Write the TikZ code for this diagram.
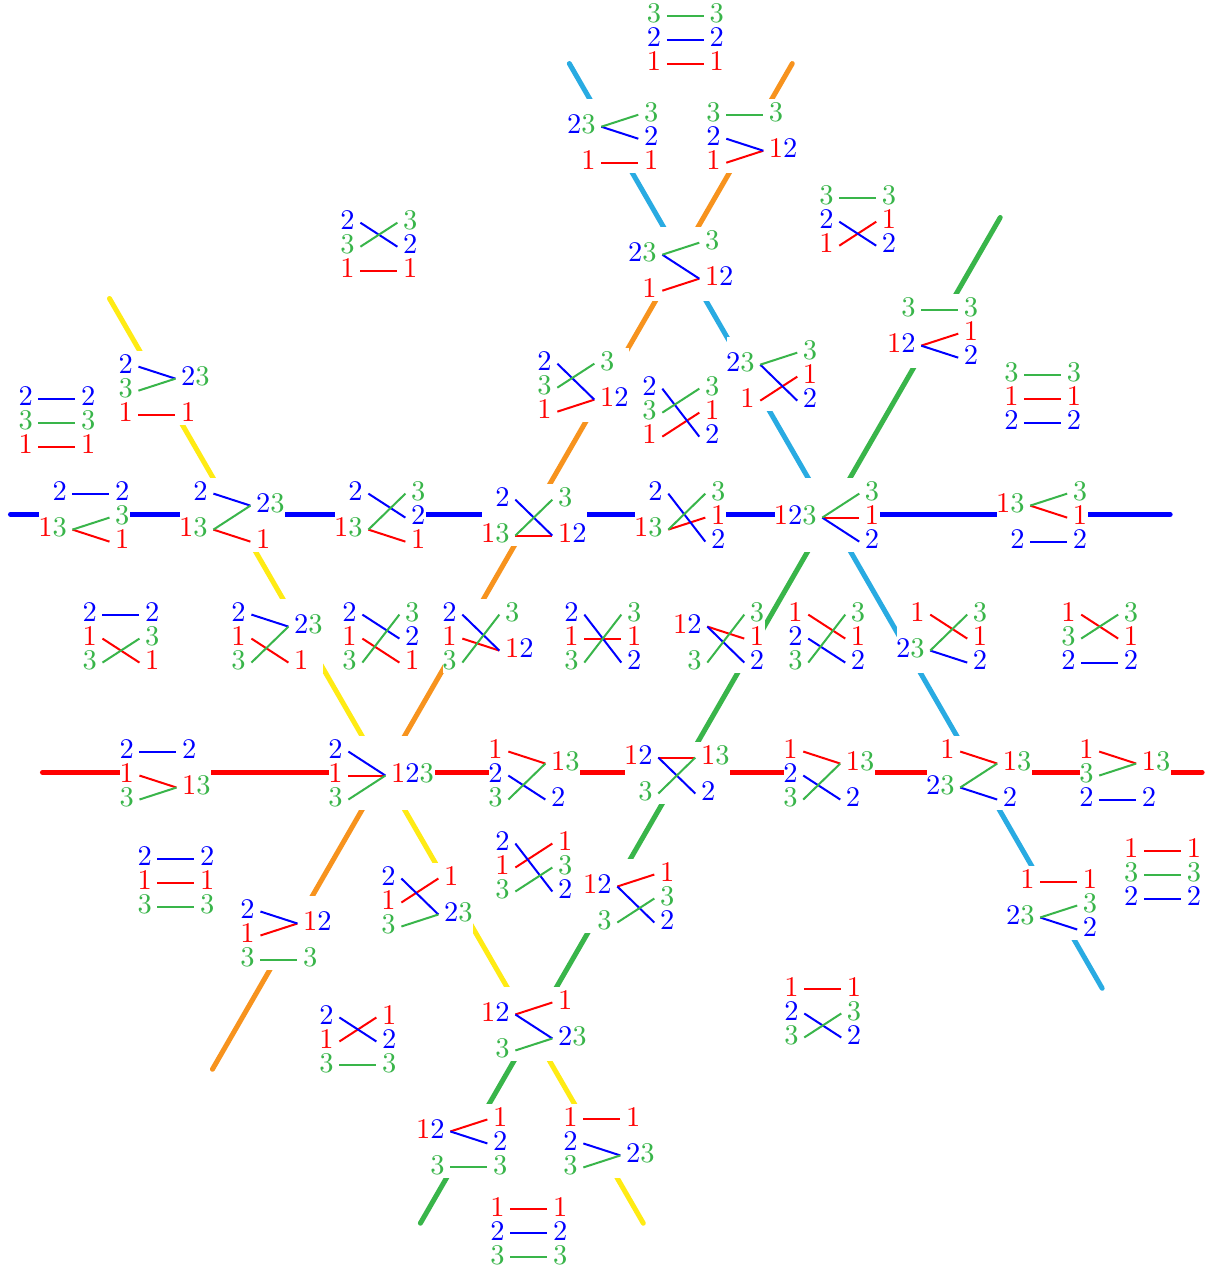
\documentclass[tikz,border=0pt]{standalone}
\usetikzlibrary{fit}
\definecolor{colr}{HTML}{FF0000}
\definecolor{colb}{HTML}{0000FF}
\definecolor{colg}{HTML}{39B54A}
\definecolor{coly}{HTML}{FFEB14}
\definecolor{colo}{HTML}{F7931E}
\definecolor{colc}{HTML}{29ABE2}
\pgfdeclarelayer{conn}\pgfdeclarelayer{mask}\pgfsetlayers{conn,mask,main}
\font\dgfont=cmr10 at 28.5pt
\def\recdigit#1#2#3{\global\expandafter\let\csname row#3\side\endcsname\yy\textcolor{#2}{#1}}
\def\1{\recdigit{1}{colr}{a}}
\def\2{\recdigit{2}{colb}{b}}
\def\3{\recdigit{3}{colg}{c}}
\tikzset{
  lab/.style={inner sep=0pt,font=\dgfont},
  wire/.style={line width=2pt},
  strand/.style={line width=5pt,line cap=round},
  maskbox/.style={fill=white,inner xsep=0pt,inner ysep=4pt,xshift=.7pt}
}
\newcommand\dg[5]{%
  \begin{scope}[local bounding box=#1-bb]
    \def\side{L}
    \foreach \yy/\lbl in {#4}{\node[lab,anchor=base east] at (#2-24,#3+\yy*24+9.1) {\lbl};}
    \def\side{R}
    \foreach \yy/\lbl in {#5}{\node[lab,anchor=base west] at (#2+24,#3+\yy*24+9.1) {\lbl};}
    \draw[wire,colr] (#2-18.5,#3+\rowaL*24+2.5) -- (#2+18.5,#3+\rowaR*24+2.5);
    \draw[wire,colb] (#2-18.5,#3+\rowbL*24+2.5) -- (#2+18.5,#3+\rowbR*24+2.5);
    \draw[wire,colg] (#2-18.5,#3+\rowcL*24+2.5) -- (#2+18.5,#3+\rowcR*24+2.5);
  \end{scope}
  \begin{pgfonlayer}{mask}
    \node[maskbox,fit=(#1-bb)] (#1) {};
  \end{pgfonlayer}
}
\begin{document}
\begin{tikzpicture}[x=1pt,y=-1pt]
\coordinate (b0) at (10.5,514.3);   \coordinate (b1) at (1170.5,514.3);
\coordinate (r0) at (42.5,772.3);   \coordinate (r1) at (1202.5,772.3);
\coordinate (c0) at (569.5,63.3);   \coordinate (c1) at (1102.5,988.3);
\coordinate (o0) at (792.5,63.3);   \coordinate (o1) at (212.5,1069.3);
\coordinate (g0) at (1000.5,217.3); \coordinate (g1) at (420.5,1223.3);
\coordinate (y0) at (109.5,298.3);  \coordinate (y1) at (643.5,1223.3);
\begin{pgfonlayer}{conn}
\draw[strand,colb] (b0) -- (b1);
\draw[strand,colr] (r0) -- (r1);
\draw[strand,colc] (c0) -- (c1);
\draw[strand,colo] (o0) -- (o1);
\draw[strand,colg] (g0) -- (g1);
\draw[strand,coly] (y0) -- (y1);
\end{pgfonlayer}
\dg{n01}{685.5}{37}{-1/\3,0/\2,1/\1}{-1/\3,0/\2,1/\1}
\dg{n02}{620}{136}{-.5/\2\3,1/\1}{-1/\3,0/\2,1/\1}
\dg{n03}{745}{136}{-1/\3,0/\2,1/\1}{-1/\3,.5/\1\2}
\dg{n04}{681}{264}{-.5/\2\3,1/\1}{-1/\3,.5/\1\2}
\dg{n05}{858}{219}{-1/\3,0/\2,1/\1}{-1/\3,0/\1,1/\2}
\dg{n06}{379}{244}{-1/\2,0/\3,1/\1}{-1/\3,0/\2,1/\1}
\dg{n07}{940}{331}{-1/\3,.5/\1\2}{-1/\3,0/\1,1/\2}
\dg{n08}{1043}{396}{-1/\3,0/\1,1/\2}{-1/\3,0/\1,1/\2}
\dg{n09}{779}{374}{-.5/\2\3,1/\1}{-1/\3,0/\1,1/\2}
\dg{n10}{681}{410}{-1/\2,0/\3,1/\1}{-1/\3,0/\1,1/\2}
\dg{n11}{576}{385}{-1/\2,0/\3,1/\1}{-1/\3,.5/\1\2}
\dg{n12}{157}{388}{-1/\2,0/\3,1/\1}{-.5/\2\3,1/\1}
\dg{n13}{57}{420}{-1/\2,0/\3,1/\1}{-1/\2,0/\3,1/\1}
\dg{n14}{91}{515}{-1/\2,.5/\1\3}{-1/\2,0/\3,1/\1}
\dg{n15}{232}{515}{-1/\2,.5/\1\3}{-.5/\2\3,1/\1}
\dg{n16}{387}{515}{-1/\2,.5/\1\3}{-1/\3,0/\2,1/\1}
\dg{n17}{534}{521}{-1/\2,.5/\1\3}{-1/\3,.5/\1\2}
\dg{n18}{687}{515}{-1/\2,.5/\1\3}{-1/\3,0/\1,1/\2}
\dg{n19}{841}{515}{0/\1\2\3}{-1/\3,0/\1,1/\2}
\dg{n20}{1049}{515}{-.5/\1\3,1/\2}{-1/\3,0/\1,1/\2}
\dg{n21}{121}{636}{-1/\2,0/\1,1/\3}{-1/\2,0/\3,1/\1}
\dg{n22}{270}{636}{-1/\2,0/\1,1/\3}{-.5/\2\3,1/\1}
\dg{n23}{381}{636}{-1/\2,0/\1,1/\3}{-1/\3,0/\2,1/\1}
\dg{n24}{481}{636}{-1/\2,0/\1,1/\3}{-1/\3,.5/\1\2}
\dg{n25}{603}{636}{-1/\2,0/\1,1/\3}{-1/\3,0/\1,1/\2}
\dg{n26}{726}{636}{-.5/\1\2,1/\3}{-1/\3,0/\1,1/\2}
\dg{n27}{827}{636}{-1/\1,0/\2,1/\3}{-1/\3,0/\1,1/\2}
\dg{n28}{949}{636}{-1/\1,.5/\2\3}{-1/\3,0/\1,1/\2}
\dg{n29}{1100}{636}{-1/\1,0/\3,1/\2}{-1/\3,0/\1,1/\2}
\dg{n30}{158}{773}{-1/\2,0/\1,1/\3}{-1/\2,.5/\1\3}
\dg{n31}{367}{773}{-1/\2,0/\1,1/\3}{0/\1\2\3}
\dg{n32}{527}{773}{-1/\1,0/\2,1/\3}{-.5/\1\3,1/\2}
\dg{n33}{677}{767}{-.5/\1\2,1/\3}{-.5/\1\3,1/\2}
\dg{n34}{822}{773}{-1/\1,0/\2,1/\3}{-.5/\1\3,1/\2}
\dg{n35}{979}{773}{-1/\1,.5/\2\3}{-.5/\1\3,1/\2}
\dg{n36}{1118}{773}{-1/\1,0/\3,1/\2}{-.5/\1\3,1/\2}
\dg{n37}{176}{880}{-1/\2,0/\1,1/\3}{-1/\2,0/\1,1/\3}
\dg{n38}{1163}{872}{-1/\1,0/\3,1/\2}{-1/\1,0/\3,1/\2}
\dg{n39}{534}{865}{-1/\2,0/\1,1/\3}{-1/\1,0/\3,1/\2}
\dg{n40}{420}{900}{-1/\2,0/\1,1/\3}{-1/\1,.5/\2\3}
\dg{n41}{636}{896}{-.5/\1\2,1/\3}{-1/\1,0/\3,1/\2}
\dg{n42}{279}{933}{-1/\2,0/\1,1/\3}{-.5/\1\2,1/\3}
\dg{n43}{1059}{903}{-1/\1,.5/\2\3}{-1/\1,0/\3,1/\2}
\dg{n44}{823}{1011}{-1/\1,0/\2,1/\3}{-1/\1,0/\3,1/\2}
\dg{n45}{358}{1039}{-1/\2,0/\1,1/\3}{-1/\1,0/\2,1/\3}
\dg{n46}{534}{1024}{-.5/\1\2,1/\3}{-1/\1,.5/\2\3}
\dg{n47}{469}{1141}{-.5/\1\2,1/\3}{-1/\1,0/\2,1/\3}
\dg{n48}{602}{1141}{-1/\1,0/\2,1/\3}{-1/\1,.5/\2\3}
\dg{n49}{529}{1231}{-1/\1,0/\2,1/\3}{-1/\1,0/\2,1/\3}
\useasboundingbox (0,0) rectangle (1205,1268);
\end{tikzpicture}
\end{document}
